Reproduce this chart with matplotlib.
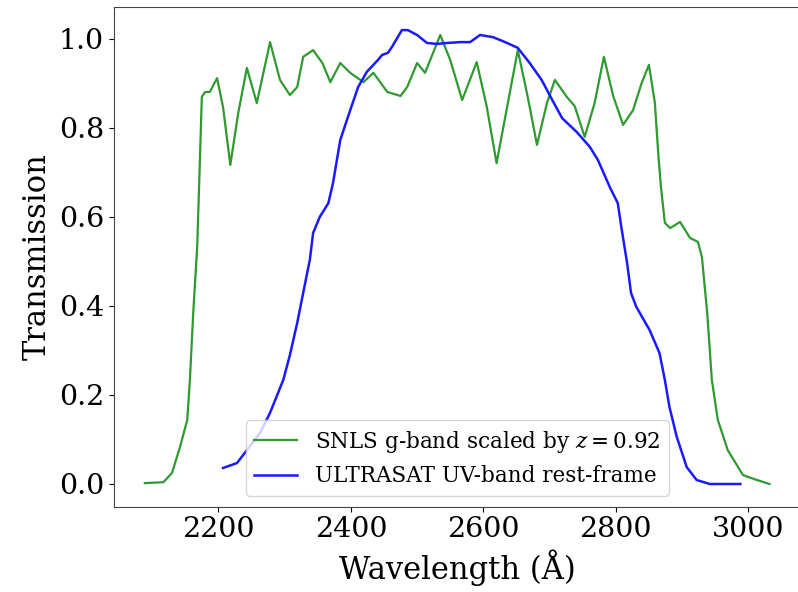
import matplotlib
matplotlib.use('Agg')
import matplotlib.pyplot as plt
import numpy as np

# Values
snls_wave = [2089, 2117, 2130, 2142, 2153, 2157, 2162, 2168, 2171, 2175, 2180,
             2187, 2198, 2207, 2218, 2230, 2243, 2258, 2278, 2293, 2308, 2319,
             2328, 2343, 2357, 2369, 2384, 2399, 2419, 2434, 2455, 2475, 2485,
             2500, 2512, 2535, 2550, 2568, 2590, 2605, 2620, 2637, 2652, 2667,
             2681, 2696, 2708, 2726, 2738, 2753, 2768, 2782, 2796, 2811, 2826,
             2839, 2850, 2859, 2864, 2868, 2874, 2882, 2897, 2912, 2924, 2930,
             2938, 2945, 2954, 2969, 2992, 3013, 3032]
snls_trans = [0.002, 0.004, 0.025, 0.083, 0.144, 0.234, 0.384, 0.533, 0.675,
              0.870, 0.881, 0.881, 0.912, 0.847, 0.717, 0.834, 0.935, 0.856,
              0.993, 0.908, 0.874, 0.892, 0.960, 0.975, 0.946, 0.903, 0.946,
              0.924, 0.903, 0.924, 0.881, 0.872, 0.892, 0.946, 0.924, 1.009,
              0.953, 0.863, 0.948, 0.849, 0.721, 0.856, 0.975, 0.870, 0.762,
              0.856, 0.908, 0.870, 0.849, 0.780, 0.856, 0.960, 0.872, 0.807,
              0.840, 0.901, 0.942, 0.856, 0.744, 0.670, 0.587, 0.575, 0.589,
              0.553, 0.544, 0.510, 0.384, 0.234, 0.144, 0.076, 0.020, 0.009,
              0.000]

uv_wave = [2207, 2228, 2243, 2263, 2278, 2298, 2308, 2319, 2334, 2338, 2343,
           2353, 2366, 2373, 2384, 2399, 2411, 2424, 2441, 2447, 2456, 2462,
           2477, 2486, 2500, 2515, 2530, 2545, 2565, 2580, 2595, 2615, 2636,
           2652, 2670, 2688, 2704, 2719, 2741, 2761, 2773, 2791, 2803, 2809,
           2817, 2823, 2831, 2851, 2866, 2874, 2881, 2892, 2907, 2922, 2942,
           2988]
uv_trans = [0.036, 0.047, 0.076, 0.115, 0.160, 0.234, 0.290, 0.362, 0.474,
            0.503, 0.564, 0.600, 0.631, 0.676, 0.773, 0.840, 0.892, 0.926,
            0.953, 0.964, 0.969, 0.982, 1.020, 1.020, 1.009, 0.991, 0.989,
            0.991, 0.993, 0.993, 1.009, 1.004, 0.991, 0.980, 0.946, 0.908,
            0.863, 0.822, 0.791, 0.757, 0.728, 0.667, 0.631, 0.571, 0.497,
            0.429, 0.398, 0.346, 0.294, 0.234, 0.173, 0.106, 0.038, 0.009,
            0.000, 0.000]

plt.rcParams['font.family'] = 'DejaVu Serif'
plt.rcParams['mathtext.fontset'] = 'dejavuserif'

fig = plt.figure(figsize=(7.98, 5.92), dpi=100)
ax = fig.add_axes([0.1424, 0.1441, 0.861, 0.8434])

ax.plot(snls_wave, snls_trans, color='#2f9a2f', linewidth=1.6,
        label=r'SNLS g-band scaled by $z = 0.92$')
ax.plot(uv_wave, uv_trans, color='#1a1aff', linewidth=1.8,
        label='ULTRASAT UV-band rest-frame')

ax.set_xticks([2200, 2400, 2600, 2800, 3000])
ax.set_yticks([0.0, 0.2, 0.4, 0.6, 0.8, 1.0])
ax.tick_params(labelsize=20.5)
for s in ['left', 'bottom', 'top']:
    ax.spines[s].set_color('#444444')
# picture is cut at the right, so no right frame line shows
ax.spines['right'].set_visible(False)
ax.set_xlabel('Wavelength (Å)', fontsize=22)
ax.set_ylabel('Transmission', fontsize=22)
ax.legend(loc='lower center', fontsize=15.5)

fig.savefig('out.png', dpi=100)
